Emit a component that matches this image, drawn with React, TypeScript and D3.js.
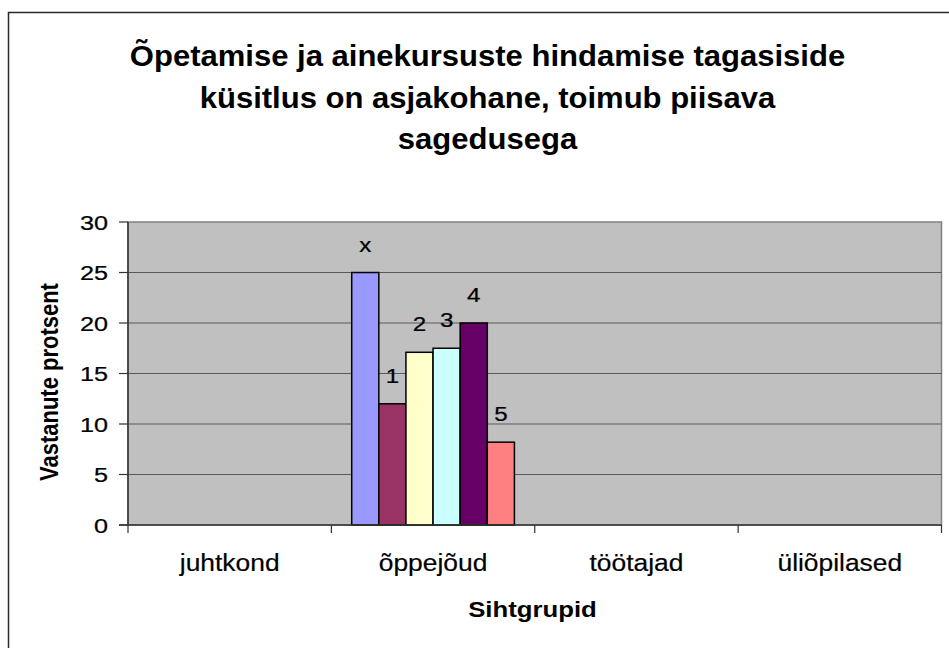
import { useEffect, useRef } from "react";
import * as d3 from "d3";

const titleLines = [
  "Õpetamise ja ainekursuste hindamise tagasiside",
  "küsitlus on asjakohane, toimub piisava",
  "sagedusega",
];
const categories = ["juhtkond", "õppejõud", "töötajad", "üliõpilased"];
const seriesNames = ["x", "1", "2", "3", "4", "5"];
const seriesColors = ["#9999FF", "#993366", "#FFFFCC", "#CCFFFF", "#660066", "#FF8080"];
// one value per category; null = no bar
const seriesValues: (number | null)[][] = [
  [null, 25, null, null],
  [null, 12, null, null],
  [null, 17.1, null, null],
  [null, 17.5, null, null],
  [null, 20, null, null],
  [null, 8.2, null, null],
];
const yTicks = [0, 5, 10, 15, 20, 25, 30];
const xTitle = "Sihtgrupid";
const yTitle = "Vastanute protsent";

const FONT = "'Liberation Sans', Arial, Helvetica, sans-serif";

export default function App() {
  const svgRef = useRef<SVGSVGElement>(null);

  useEffect(() => {
    if (!svgRef.current) return;
    const width = 949;
    const height = 648;
    const plot = { left: 128, right: 941.5, top: 222, bottom: 525 };

    const svg = d3.select(svgRef.current);
    svg.selectAll("*").remove();
    svg.attr("width", width).attr("height", height);

    // chart area frame
    svg.append("rect")
      .attr("x", 8.5).attr("y", 12.5)
      .attr("width", 980).attr("height", 700)
      .attr("fill", "#fff")
      .attr("stroke", "#2a2a2a")
      .attr("stroke-width", 1.5);

    const x = d3.scaleBand<string>()
      .domain(categories)
      .range([plot.left, plot.right])
      .padding(0);
    const xInner = d3.scaleBand<string>()
      .domain(seriesNames)
      .range([0, x.bandwidth()])
      .paddingInner(0)
      .paddingOuter(0.75);
    const y = d3.scaleLinear().domain([0, 30]).range([plot.bottom, plot.top]);

    // plot area
    svg.append("rect")
      .attr("x", plot.left).attr("y", plot.top)
      .attr("width", plot.right - plot.left)
      .attr("height", plot.bottom - plot.top)
      .attr("fill", "#C0C0C0")
      .attr("stroke", "#808080")
      .attr("stroke-width", 1.5);

    // gridlines
    svg.append("g")
      .selectAll("line")
      .data(yTicks.filter(t => t > 0 && t < 30))
      .join("line")
      .attr("x1", plot.left).attr("x2", plot.right)
      .attr("y1", d => y(d)).attr("y2", d => y(d))
      .attr("stroke", "#5a5a5a")
      .attr("stroke-width", 1.2);

    // bars
    const barG = svg.append("g");
    seriesNames.forEach((name, si) => {
      seriesValues[si].forEach((v, ci) => {
        if (v == null) return;
        const bx = (x(categories[ci]) ?? 0) + (xInner(name) ?? 0);
        barG.append("rect")
          .attr("x", bx)
          .attr("y", y(v))
          .attr("width", xInner.bandwidth())
          .attr("height", y(0) - y(v))
          .attr("fill", seriesColors[si])
          .attr("stroke", "#000")
          .attr("stroke-width", 1.5);
        const lx = bx + xInner.bandwidth() / 2;
        barG.append("text")
          .attr("transform", `translate(${lx},${y(v) - 21}) scale(1.15,1)`)
          .attr("text-anchor", "middle")
          .attr("font-family", FONT)
          .attr("font-size", 21)
          .attr("fill", "#000")
          .attr("stroke", "#000").attr("stroke-width", 0.25)
          .text(name);
      });
    });

    // axes lines
    svg.append("line")
      .attr("x1", plot.left).attr("x2", plot.left)
      .attr("y1", plot.top).attr("y2", plot.bottom)
      .attr("stroke", "#333").attr("stroke-width", 1.5);
    svg.append("line")
      .attr("x1", plot.left - 9).attr("x2", plot.right)
      .attr("y1", plot.bottom).attr("y2", plot.bottom)
      .attr("stroke", "#333").attr("stroke-width", 1.5);

    // y ticks + labels
    const yAx = svg.append("g");
    yTicks.forEach(t => {
      yAx.append("line")
        .attr("x1", plot.left - 9).attr("x2", plot.left)
        .attr("y1", y(t)).attr("y2", y(t))
        .attr("stroke", "#333").attr("stroke-width", 1.2);
      yAx.append("text")
        .attr("transform", `translate(108,${y(t) + 7.5}) scale(1.2,1)`)
        .attr("text-anchor", "end")
        .attr("font-family", FONT)
        .attr("font-size", 21)
        .attr("fill", "#000")
        .attr("stroke", "#000").attr("stroke-width", 0.25)
        .text(String(t));
    });

    // x ticks + labels
    const xAx = svg.append("g");
    const boundaries = categories.map(c => x(c) ?? 0).concat([plot.right]);
    boundaries.forEach(b => {
      xAx.append("line")
        .attr("x1", b).attr("x2", b)
        .attr("y1", plot.bottom).attr("y2", plot.bottom + 8)
        .attr("stroke", "#333").attr("stroke-width", 1.2);
    });
    categories.forEach(c => {
      xAx.append("text")
        .attr("transform", `translate(${(x(c) ?? 0) + x.bandwidth() / 2},570.5) scale(1.1,1)`)
        .attr("text-anchor", "middle")
        .attr("font-family", FONT)
        .attr("font-size", 24)
        .attr("fill", "#000")
        .attr("stroke", "#000").attr("stroke-width", 0.2)
        .text(c);
    });

    // axis titles
    svg.append("text")
      .attr("transform", `translate(532.5,616.5) scale(1.17,1)`)
      .attr("text-anchor", "middle")
      .attr("font-family", FONT)
      .attr("font-weight", "bold")
      .attr("font-size", 22)
      .attr("fill", "#000")
      .text(xTitle);
    svg.append("text")
      .attr("transform", `translate(58,382) scale(1.15,1) rotate(-90)`)
      .attr("text-anchor", "middle")
      .attr("font-family", FONT)
      .attr("font-weight", "bold")
      .attr("font-size", 22)
      .attr("fill", "#000")
      .text(yTitle);

    // title
    titleLines.forEach((line, i) => {
      svg.append("text")
        .attr("transform", `translate(487.5,${66 + i * 41.5}) scale(1.07,1)`)
        .attr("text-anchor", "middle")
        .attr("font-family", FONT)
        .attr("font-weight", "bold")
        .attr("font-size", 29)
        .attr("fill", "#000")
        .text(line);
    });
  }, []);

  return (
    <svg
      ref={svgRef}
      style={{ position: "absolute", left: 0, top: 0, display: "block" }}
    />
  );
}
